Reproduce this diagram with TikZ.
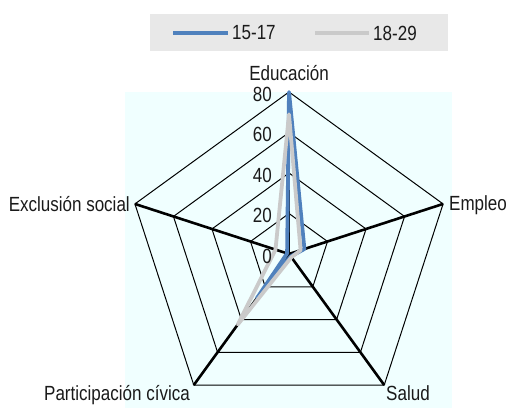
\documentclass[tikz,border=0pt]{standalone}
\usepackage{fontspec}
\setmainfont{Liberation Sans}[FakeStretch=0.83]
\definecolor{bgc}{HTML}{F0FFFF}
\definecolor{legbg}{HTML}{E8E8E8}
\definecolor{serA}{HTML}{4F81BD}
\definecolor{serB}{HTML}{CACACA}
\definecolor{txt}{HTML}{1A1A1A}
\begin{document}
\begin{tikzpicture}[x=1pt,y=1pt,
  lbl/.style={font=\fontsize{20.5}{23}\selectfont, inner sep=0pt, text=txt},
  ring/.style={line width=1pt, black},
  spoke/.style={line width=2.6pt, black},
  series/.style={line width=3.8pt, line join=round, line cap=round},
  legline/.style={line width=3.6pt}]
\useasboundingbox (0,0) rectangle (506,410);
% plot background and legend box
\fill[bgc] (125,2) rectangle (452,318);
\fill[legbg] (150,359) rectangle (448,396);
% legend
\coordinate (la1) at (173,377); \coordinate (la2) at (228,377);
\coordinate (lb1) at (315,377); \coordinate (lb2) at (369,377);
\draw[legline, serA] (la1) -- (la2);
\draw[legline, serB] (lb1) -- (lb2);
\node[lbl, anchor=west] (lta) at (232,377) {15-17};
\node[lbl, anchor=west] (ltb) at (373,377) {18-29};
% radar
\begin{scope}[shift={(289,156)}]
  \coordinate (C) at (0,0);
  \foreach \r in {40.5,81,121.5,162}
    \draw[ring] (90:\r) -- (18:\r) -- (-54:\r) -- (-126:\r) -- (162:\r) -- cycle;
  \foreach \a/\n in {90/edu,18/emp,-54/sal,-126/par,162/exc}{
    \coordinate (v\n) at (\a:162);
    \draw[spoke] (C) -- (v\n);
  }
  % series 15-17
  \draw[series, serA] (90:162) -- (18:16.2) -- (-54:3) -- (-126:54.7) -- (162:2) -- cycle;
  % series 18-29
  \draw[series, serB] (90:139.7) -- (18:12.2) -- (-54:4) -- (-126:87.1) -- (162:14.2) -- cycle;
  % tick labels
  \foreach \k/\t in {0/0,1/20,2/40,3/60,4/80}
    \node[lbl, anchor=east] (t\t) at (-17,{40.5*\k-2}) {\t};
\end{scope}
% axis labels
\node[lbl, anchor=base] (ledu) at (289,329) {Educación};
\node[lbl, anchor=base west] (lemp) at (449,199) {Empleo};
\node[lbl, anchor=base east] (lexc) at (130,198) {Exclusión social};
\node[lbl, anchor=base west] (lsal) at (386,10) {Salud};
\node[lbl, anchor=base east] (lpar) at (190,10) {Participación cívica};
\end{tikzpicture}
\end{document}
